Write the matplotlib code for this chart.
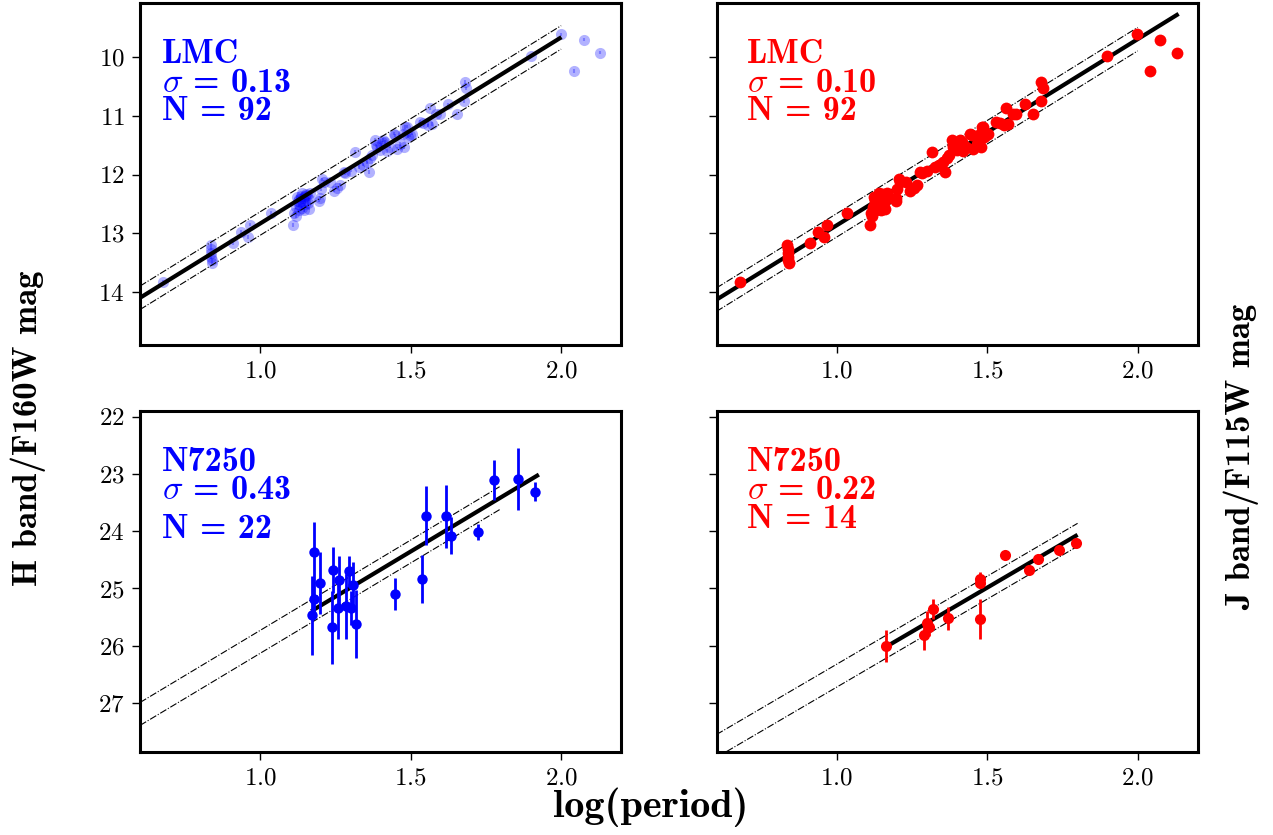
import numpy as np
import matplotlib
matplotlib.use('Agg')
import matplotlib.pyplot as plt

plt.rcParams['mathtext.fontset'] = 'cm'
plt.rcParams['font.family'] = ['cmr10', 'DejaVu Serif']
plt.rcParams['axes.formatter.use_mathtext'] = True

# LMC calibrators (same period set for H and J)
lmc_logp = [0.678, 0.835, 0.836, 0.836, 0.837, 0.838, 0.839, 0.909, 0.936, 0.958,
            0.967, 1.035, 1.110, 1.112, 1.117, 1.120, 1.122, 1.125, 1.127, 1.128,
            1.130, 1.133, 1.135, 1.139, 1.140, 1.143, 1.145, 1.147, 1.148, 1.150,
            1.152, 1.155, 1.158, 1.161, 1.163, 1.166, 1.195, 1.198, 1.200, 1.206,
            1.210, 1.231, 1.244, 1.255, 1.266, 1.277, 1.283, 1.300, 1.316, 1.327,
            1.340, 1.354, 1.360, 1.366, 1.371, 1.382, 1.385, 1.387, 1.398, 1.405,
            1.409, 1.415, 1.420, 1.430, 1.443, 1.448, 1.453, 1.465, 1.475, 1.478,
            1.481, 1.486, 1.490, 1.497, 1.503, 1.530, 1.541, 1.557, 1.563, 1.569,
            1.585, 1.596, 1.624, 1.653, 1.677, 1.679, 1.685, 1.899, 1.998, 2.042,
            2.075, 2.130]
lmc_mag = [13.83, 13.20, 13.26, 13.33, 13.40, 13.46, 13.51, 13.16, 12.98, 13.06,
           12.85, 12.65, 12.86, 12.66, 12.70, 12.55, 12.38, 12.45, 12.42, 12.52,
           12.61, 12.46, 12.36, 12.32, 12.56, 12.40, 12.61, 12.36, 12.50, 12.44,
           12.33, 12.35, 12.48, 12.58, 12.42, 12.32, 12.44, 12.40, 12.24, 12.08,
           12.12, 12.12, 12.27, 12.22, 12.18, 11.95, 11.97, 11.93, 11.61, 11.87,
           11.83, 11.78, 11.95, 11.72, 11.67, 11.41, 11.50, 11.53, 11.58, 11.45,
           11.41, 11.44, 11.60, 11.52, 11.30, 11.33, 11.56, 11.48, 11.30, 11.53,
           11.19, 11.18, 11.35, 11.33, 11.30, 11.10, 11.12, 11.16, 10.87, 11.14,
           10.96, 10.96, 10.80, 10.96, 10.75, 10.42, 10.53, 9.98, 9.61, 10.23,
           9.70, 9.92]

# N7250, H band / F160W
n_h_logp = [1.177, 1.197, 1.180, 1.173, 1.240, 1.238, 1.262, 1.258, 1.295, 1.284, 1.309,
            1.300, 1.319, 1.446, 1.536, 1.552, 1.617, 1.634, 1.725, 1.778, 1.858, 1.912]
n_h_mag = [24.37, 24.90, 25.19, 25.47, 24.68, 25.68, 24.86, 25.34, 24.70, 25.31, 24.94,
           25.34, 25.62, 25.09, 24.84, 23.73, 23.74, 24.08, 24.02, 23.11, 23.09, 23.31]
n_h_err = [0.53, 0.54, 0.30, 0.69, 0.40, 0.64, 0.42, 0.55, 0.27, 0.57, 0.40,
           0.30, 0.60, 0.28, 0.42, 0.52, 0.55, 0.32, 0.14, 0.35, 0.54, 0.17]

# N7250, J band / F115W
n_j_logp = [1.162, 1.290, 1.301, 1.305, 1.319, 1.370, 1.475, 1.477, 1.477, 1.558,
            1.637, 1.670, 1.737, 1.794]
n_j_mag = [26.00, 25.81, 25.60, 25.68, 25.36, 25.52, 24.84, 24.90, 25.54, 24.42,
           24.68, 24.49, 24.33, 24.20]
n_j_err = [0.28, 0.26, 0.20, 0.15, 0.17, 0.20, 0.12, 0.08, 0.35, 0.05,
           0.06, 0.06, 0.05, 0.05]

# fits: (slope, zero point at logP=1, x start, x end), band half width
fit_lmc_h = (-3.17, 12.83, 0.6, 1.995)
fit_lmc_j = (-3.17, 12.86, 0.6, 2.13)
fit_n_h = (-3.15, 25.93, 1.175, 1.92)
fit_n_j = (-3.07, 26.52, 1.162, 1.794)
band = 0.2

labels = [('LMC', '0.13', '92'), ('LMC', '0.10', '92'),
          ('N7250', '0.43', '22'), ('N7250', '0.22', '14')]

fig, axs = plt.subplots(2, 2, figsize=(12.73, 8.35), dpi=100, sharex=True)
plt.subplots_adjust(left=0.11, right=0.941, bottom=0.099, top=0.996,
                    wspace=0.198, hspace=0.193)


def draw_fit(ax, fit, band_end=2.0):
    a, b, x0, x1 = fit
    xx = np.array([x0, x1])
    ax.plot(xx, b + a * (xx - 1), color='black', lw=3, zorder=4)
    xb = np.array([0.6, band_end])
    for s in (-band, band):
        ax.plot(xb, b + s + a * (xb - 1), color='black', lw=0.8, ls='-.', zorder=3)


lmc_err = np.full(len(lmc_mag), 0.03)

ax = axs[0, 0]
ax.errorbar(lmc_logp, lmc_mag, yerr=lmc_err, fmt='o', color='blue', ms=8,
            mec='none', alpha=0.3, elinewidth=1.5, zorder=2)
draw_fit(ax, fit_lmc_h)

ax = axs[0, 1]
ax.plot(lmc_logp, lmc_mag, 'o', color='red', ms=8.5, mec='none', zorder=5)
draw_fit(ax, fit_lmc_j)

ax = axs[1, 0]
ax.errorbar(n_h_logp, n_h_mag, yerr=n_h_err, fmt='o', color='blue', ms=7.5,
            mec='none', elinewidth=2, zorder=5)
draw_fit(ax, fit_n_h, band_end=1.8)

ax = axs[1, 1]
ax.errorbar(n_j_logp, n_j_mag, yerr=n_j_err, fmt='o', color='red', ms=8,
            mec='none', elinewidth=2, zorder=5)
draw_fit(ax, fit_n_j, band_end=1.8)

text_pos = [(0.046, (0.825, 0.740, 0.658)), (0.0625, (0.825, 0.740, 0.658)),
            (0.046, (0.824, 0.741, 0.629)), (0.0625, (0.824, 0.741, 0.658))]
colors = ['blue', 'red', 'blue', 'red']
bold = dict(family='cmb10', fontsize=24.5)

for ax, (name, sig, n), (tx, ys), c in zip(axs.flat, labels, text_pos, colors):
    ax.text(tx, ys[0], name, transform=ax.transAxes, color=c, va='baseline', **bold)
    ax.text(tx, ys[1], r'$\sigma$ = ' + sig, transform=ax.transAxes, color=c,
            va='baseline', **bold)
    ax.text(tx, ys[2], 'N = ' + n, transform=ax.transAxes, color=c,
            va='baseline', **bold)
    ax.set_xlim(0.6, 2.2)
    ax.set_xticks([1.0, 1.5, 2.0])
    for sp in ax.spines.values():
        sp.set_linewidth(2.2)
    ax.tick_params(direction='out', length=6, width=1, labelsize=18, pad=5)

for ax in axs[0]:
    ax.set_ylim(14.9, 9.08)
    ax.set_yticks([10, 11, 12, 13, 14])
for ax in axs[1]:
    ax.set_ylim(27.86, 21.9)
    ax.set_yticks([22, 23, 24, 25, 26, 27])
for ax in axs[:, 1]:
    ax.tick_params(labelleft=False)
axs[0, 0].tick_params(labelbottom=True)
axs[0, 1].tick_params(labelbottom=True)

fig.text(0.022, 1 - 428 / 835, 'H band/F160W mag', rotation=90, family='cmb10',
         fontsize=25, ha='center', va='center')
fig.text(0.975, 1 - 457 / 835, 'J band/F115W mag', rotation=90, family='cmb10',
         fontsize=25, ha='center', va='center')
fig.text(0.511, 0.0216, 'log(period)', family='cmb10', fontsize=29, ha='center',
         va='baseline')

fig.savefig('out.png', dpi=100)
